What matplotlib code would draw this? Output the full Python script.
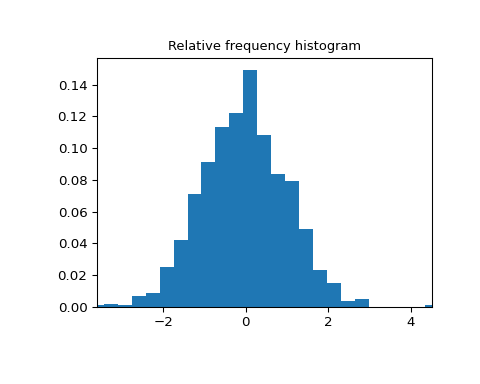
import numpy as np
import matplotlib
matplotlib.use("Agg")
import matplotlib.pyplot as plt

# relative frequencies of the 25 bins
frequency = [0.001, 0.002, 0.001, 0.007, 0.009, 0.025, 0.042, 0.071, 0.091,
             0.113, 0.122, 0.149, 0.108, 0.084, 0.079, 0.049, 0.023, 0.015,
             0.004, 0.005, 0.0, 0.0, 0.0, 0.0, 0.001]
lowerlimit = -3.62
binsize = 0.3256

freq = np.array(frequency)
x = lowerlimit + np.linspace(0, binsize * freq.size, freq.size)
step = x[1] - x[0]

fig = plt.figure(figsize=(5, 4), dpi=96)
ax = fig.add_axes([0.2015, 0.2005, 0.6985, 0.6475])
ax.bar(x, freq, width=step)
ax.set_title("Relative frequency histogram", fontsize=9.75)
ax.set_xlim([x.min(), x.max()])

fig.savefig("out.png", dpi=96)
